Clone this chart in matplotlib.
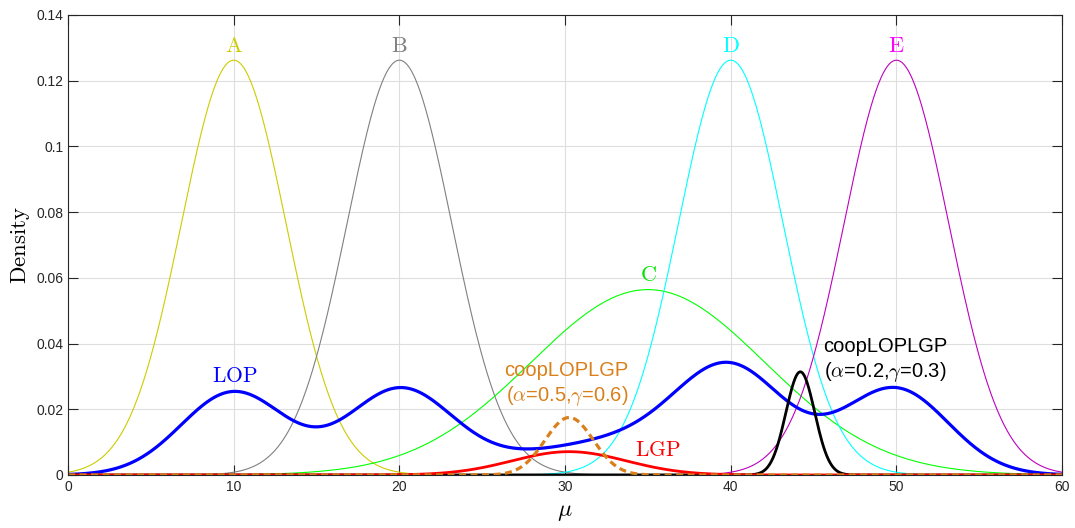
import matplotlib
matplotlib.use('Agg')
import matplotlib.pyplot as plt
import numpy as np

plt.rcParams['mathtext.fontset'] = 'cm'
plt.rcParams['font.family'] = ['Liberation Sans', 'DejaVu Sans']

#-------------------------------------------------------------------------
# data
#-------------------------------------------------------------------------
# Expert densities (normal), labels and colours

names      = [ 'A', 'B', 'C', 'D', 'E' ]
means      = [ 10.0, 20.0, 35.0, 40.0, 50.0 ]
sds        = [ 3.16, 3.16, 7.07, 3.16, 3.16 ]
line_cols  = [ (0.8, 0.8, 0.0), (0.5, 0.5, 0.5), (0.0, 1.0, 0.0), (0.0, 1.0, 1.0), (0.75, 0.0, 0.75) ]
label_cols = [ (0.8, 0.8, 0.0), (0.5, 0.5, 0.5), (0.0, 0.9, 0.0), (0.0, 1.0, 1.0), (1.0, 0.0, 1.0) ]
label_y    = [ 0.1303, 0.1303, 0.0606, 0.1303, 0.1303 ]

# Pooled results: (mean, sd, peak height)
lgp_params   = ( 30.24, 3.45, 0.0071 )
coop1_params = ( 30.25, 1.46, 0.0175 )   # alpha=0.5, gamma=0.6
coop2_params = ( 44.20, 0.87, 0.0314 )   # alpha=0.2, gamma=0.3

x_grid = np.linspace( 0, 60, 1201 )

def normal_pdf( x, mu, sd ):
  return np.exp( -0.5*((x - mu)/sd)**2 ) / ( sd*np.sqrt( 2*np.pi ) )

def bump( x, mu, sd, peak ):
  return peak*np.exp( -0.5*((x - mu)/sd)**2 )

#-------------------------------------------------------------------------
# plot
#-------------------------------------------------------------------------

fig = plt.figure( figsize=(10.75, 5.28), dpi=100 )
ax  = fig.add_axes( [ 0.0633, 0.1004, 0.9247, 0.8712 ] )

dens = []
for mu, sd, col in zip( means, sds, line_cols ):
  d = normal_pdf( x_grid, mu, sd )
  dens.append( d )
  ax.plot( x_grid, d, color=col, lw=0.8 )

lop = np.mean( dens, axis=0 )
ax.plot( x_grid, lop, color='b', lw=2.3 )

ax.plot( x_grid, bump( x_grid, *coop2_params ), color='k', lw=2.0 )
ax.plot( x_grid, bump( x_grid, *lgp_params ), color='r', lw=2.0 )
ax.plot( x_grid, bump( x_grid, *coop1_params ), color=(0.85, 0.5, 0.1), lw=2.3,
         ls=(0, (2.2, 1.4)) )

# Curve labels
for name, mu, y, col in zip( names, means, label_y, label_cols ):
  ax.text( mu, y, r'$\mathrm{%s}$' % name, color=col, fontsize=16,
           ha='center', va='center' )
ax.text( 10.05, 0.0301, r'$\mathrm{LOP}$', color='b', fontsize=15.5, ha='center', va='center' )
ax.text( 35.6, 0.0074, r'$\mathrm{LGP}$', color='r', fontsize=15.5, ha='center', va='center' )
ax.text( 30.1, 0.0276, 'coopLOPLGP\n' + r'($\alpha$=0.5,$\gamma$=0.6)',
         color=(0.85, 0.5, 0.1), fontsize=14.5, ha='center', va='center', linespacing=1.2 )
ax.text( 49.3, 0.0349, 'coopLOPLGP\n' + r'($\alpha$=0.2,$\gamma$=0.3)',
         color='k', fontsize=14.5, ha='center', va='center', linespacing=1.2 )

ax.set_xlim( 0, 60 )
ax.set_ylim( 0, 0.14 )
ax.set_xticks( np.arange( 0, 61, 10 ) )
ax.set_yticks( np.arange( 0, 0.141, 0.02 ) )
ax.set_yticklabels( [ '0', '0.02', '0.04', '0.06', '0.08', '0.1', '0.12', '0.14' ] )
ax.grid( True, color=(0.87, 0.87, 0.87), lw=0.8 )
ax.set_axisbelow( True )
ax.tick_params( direction='in', length=7, width=0.8, top=True, right=True,
                labelsize=10, colors=(0.15, 0.15, 0.15) )
for sp in ax.spines.values():
  sp.set_color( (0.15, 0.15, 0.15) )
  sp.set_linewidth( 0.8 )

ax.set_xlabel( r'$\mu$', fontsize=17, labelpad=5 )
ax.set_ylabel( r'$\mathrm{Density}$', fontsize=16.5, labelpad=3 )

fig.savefig( 'out.png', dpi=100 )
